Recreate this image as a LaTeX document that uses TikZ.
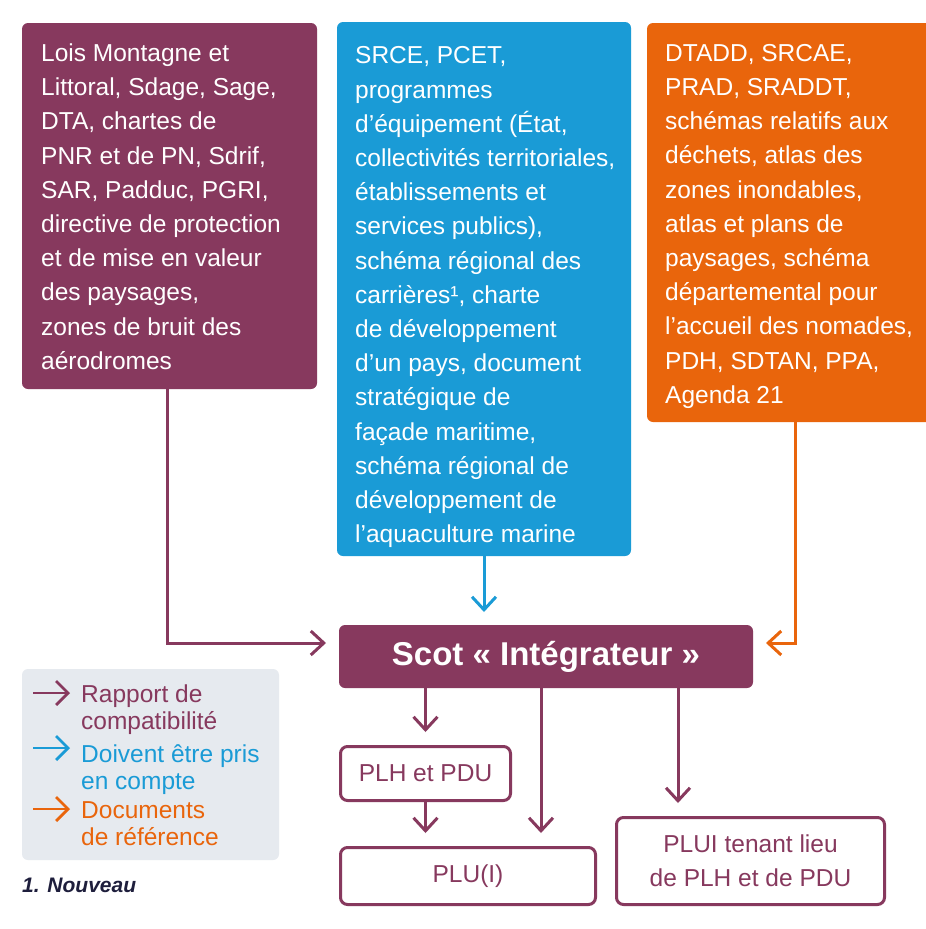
\documentclass[tikz,border=0pt]{standalone}
\usepackage{fontspec}
\setmainfont{Liberation Sans}
\usetikzlibrary{arrows.meta}
\definecolor{cpurple}{HTML}{87395E}
\definecolor{cblue}{HTML}{1A9BD6}
\definecolor{corange}{HTML}{E9650C}
\definecolor{clegend}{HTML}{E6EAEF}
\definecolor{cnavy}{HTML}{1E1E3C}
\begin{document}
\begin{tikzpicture}[x=1pt,y=-1pt,
  colbox/.style={rectangle, rounded corners=6pt, inner sep=0pt, outer sep=0pt},
  boxtext/.style={anchor=north west, inner sep=0pt, align=left, text=white,
    font=\fontsize{24.5}{34.2}\selectfont},
  whitebox/.style={rectangle, rounded corners=7pt, draw=cpurple, line width=3pt,
    fill=white, text=cpurple, align=center, inner sep=0pt,
    font=\fontsize{24.5}{34}\selectfont},
  conn/.style={line width=3pt, -{Straight Barb[length=13pt,width=24pt]},
    shorten >=13pt},
  legarrow/.style={line width=2.8pt, -{Straight Barb[length=12pt,width=24pt]}},
  legtext/.style={anchor=north west, inner sep=0pt, align=left,
    font=\fontsize{24.5}{27.5}\selectfont}]
\useasboundingbox (0,0) rectangle (926,929);
\fill[white] (0,0) rectangle (926,929);

% top boxes
\node[colbox, fill=cpurple, minimum width=295pt, minimum height=366pt] (lm) at (169.5,206) {};
\node[boxtext] (lmtxt) at (41,43.5) {Lois Montagne et\\Littoral, Sdage, Sage,\\DTA, chartes de\\PNR et de PN, Sdrif,\\SAR, Padduc, PGRI,\\directive de protection\\et de mise en valeur\\des paysages,\\zones de bruit des\\aérodromes};

\node[colbox, fill=cblue, minimum width=294pt, minimum height=534pt] (srce) at (484,289) {};
\node[boxtext] (srcetxt) at (355,46.5) {SRCE, PCET,\\programmes\\d’équipement (État,\\collectivités territoriales,\\établissements et\\services publics),\\schéma régional des\\carrières¹, charte\\de développement\\d’un pays, document\\stratégique de\\façade maritime,\\schéma régional de\\développement de\\l’aquaculture marine};

\node[colbox, fill=corange, minimum width=296pt, minimum height=399pt] (dtadd) at (795,222.5) {};
\node[boxtext] (dtaddtxt) at (665,44) {DTADD, SRCAE,\\PRAD, SRADDT,\\schémas relatifs aux\\déchets, atlas des\\zones inondables,\\atlas et plans de\\paysages, schéma\\départemental pour\\l’accueil des nomades,\\PDH, SDTAN, PPA,\\Agenda 21};

% central box
\node[colbox, fill=cpurple, minimum width=414pt, minimum height=63pt, text=white,
  font=\fontsize{33}{36}\selectfont\bfseries] (scot) at (546,656.5) {Scot «~Intégrateur~»};

% lower boxes
\node[whitebox, minimum width=170pt, minimum height=54pt] (plh) at (425.5,773.5) {PLH et PDU};
\node[whitebox, minimum width=255pt, minimum height=57pt] (plu) at (468,876) {PLU(I)};
\node[whitebox, minimum width=268pt, minimum height=87pt] (plui) at (750.5,861) {PLUI tenant lieu\\de PLH et de PDU};

% connectors
\draw[conn, cpurple] ([xshift=-2.5pt]lm.south) |- ([yshift=13.5pt]scot.west);
\draw[conn, cblue] (srce.south) -- (srce.south |- scot.north);
\draw[conn, corange] (dtadd.south) |- ([yshift=13.5pt]scot.east);
\draw[conn, cpurple] (scot.south -| plh.north) -- (plh.north);
\draw[conn, cpurple] (plh.south) -- (plh.south |- plu.north);
\coordinate (pluin) at ([xshift=73pt]plu.north);
\draw[conn, cpurple] (scot.south -| pluin) -- (pluin);
\coordinate (pluiin) at ([xshift=-72.5pt]plui.north);
\draw[conn, cpurple] (scot.south -| pluiin) -- (pluiin);

% legend
\node[colbox, fill=clegend, minimum width=257pt, minimum height=191pt] (legend) at (150.5,764.5) {};
\coordinate (la1s) at (33,693); \coordinate (la1e) at (70,693);
\coordinate (la2s) at (33,748); \coordinate (la2e) at (70,748);
\coordinate (la3s) at (33,809); \coordinate (la3e) at (70,809);
\draw[legarrow, cpurple] (la1s) -- (la1e);
\draw[legarrow, cblue] (la2s) -- (la2e);
\draw[legarrow, corange] (la3s) -- (la3e);
\node[legtext, text=cpurple] (leg1) at (81,684.5) {Rapport de\\compatibilité};
\node[legtext, text=cblue] (leg2) at (81,744) {Doivent être pris\\en compte};
\node[legtext, text=corange] (leg3) at (81,801) {Documents\\de référence};

% footnote
\node[anchor=west, inner sep=0pt, text=cnavy, font=\fontsize{21}{24}\selectfont\bfseries\itshape] (note) at (22,885) {1. Nouveau};
\end{tikzpicture}
\end{document}
